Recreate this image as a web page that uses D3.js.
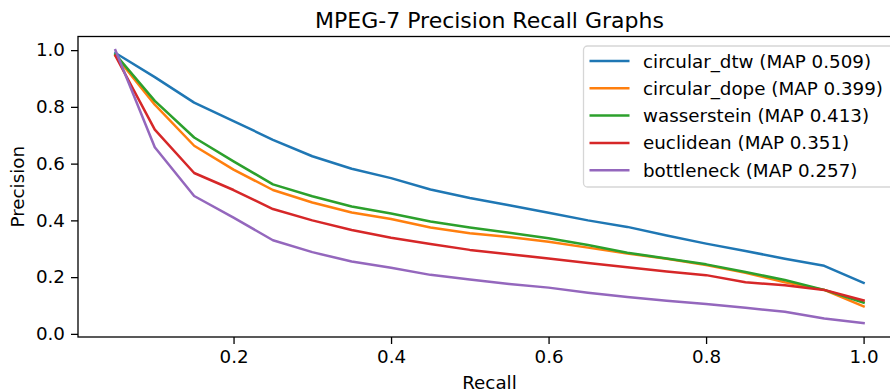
<!DOCTYPE html>
<html>
<head>
<meta charset="utf-8">
<script src="https://cdn.jsdelivr.net/npm/d3@7"></script>
<style>
    body { margin: 0; background: #fff; }
    text { font-family: "DejaVu Sans", sans-serif; }
</style>
</head>
<body>
<div id="chart"></div>
<script>
// Data
const recall = [0.05, 0.1, 0.15, 0.2, 0.25, 0.3, 0.35, 0.4, 0.45, 0.5,
                0.55, 0.6, 0.65, 0.7, 0.75, 0.8, 0.85, 0.9, 0.95, 1.0];

const circular_dtw = [0.99, 0.905, 0.815, 0.75, 0.684, 0.626, 0.582, 0.549, 0.509, 0.479,
                      0.453, 0.427, 0.40, 0.377, 0.347, 0.318, 0.292, 0.265, 0.24, 0.18];
const circular_dope = [0.98, 0.808, 0.663, 0.579, 0.507, 0.463, 0.428, 0.405, 0.375, 0.355,
                       0.341, 0.325, 0.304, 0.283, 0.265, 0.243, 0.215, 0.182, 0.155, 0.097];
const wasserstein = [0.985, 0.821, 0.692, 0.608, 0.527, 0.485, 0.449, 0.424, 0.396, 0.375,
                     0.356, 0.337, 0.313, 0.286, 0.266, 0.245, 0.218, 0.19, 0.155, 0.11];
const euclidean = [0.98, 0.72, 0.567, 0.507, 0.44, 0.40, 0.366, 0.339, 0.317, 0.296,
                   0.281, 0.266, 0.25, 0.235, 0.22, 0.207, 0.182, 0.171, 0.155, 0.118];
const bottleneck = [1.0, 0.658, 0.486, 0.41, 0.33, 0.288, 0.255, 0.233, 0.208, 0.192,
                    0.176, 0.163, 0.145, 0.13, 0.117, 0.105, 0.092, 0.078, 0.054, 0.038];

const series_names = ["circular_dtw", "circular_dope", "wasserstein", "euclidean", "bottleneck"];
const series_map = ["0.509", "0.399", "0.413", "0.351", "0.257"];
const series_values = [circular_dtw, circular_dope, wasserstein, euclidean, bottleneck];
const series_colors = ["#1f77b4", "#ff7f0e", "#2ca02c", "#d62728", "#9467bd"];

const x_ticks = [0.2, 0.4, 0.6, 0.8, 1.0];
const y_ticks = [0.0, 0.2, 0.4, 0.6, 0.8, 1.0];

function drawChart() {
    const W = 890, H = 391;
    // axes box (right edge runs just past the picture, as in the original)
    const left = 78, right = 901, top = 36.5, bottom = 337;
    const fs = "18.3px";

    const svg = d3.select("#chart")
        .append("svg")
        .attr("width", W)
        .attr("height", H);

    const x = d3.scaleLinear()
        .domain([0.0025, 1.0475])
        .range([left, right]);
    const y = d3.scaleLinear()
        .domain([-0.011, 1.048])
        .range([bottom, top]);

    // lines
    const line = d3.line()
        .x((d, i) => x(recall[i]))
        .y((d) => y(d));

    svg.selectAll("path.series")
        .data(series_values)
        .join("path")
        .attr("class", "series")
        .attr("d", (d) => line(d))
        .attr("fill", "none")
        .attr("stroke", (d, i) => series_colors[i])
        .attr("stroke-width", 2.5)
        .attr("stroke-linejoin", "round")
        .attr("stroke-linecap", "square");

    // axes
    const xAxis = svg.append("g")
        .attr("transform", `translate(0, ${bottom})`)
        .call(d3.axisBottom(x).tickValues(x_ticks).tickFormat(d3.format(".1f")).tickSize(7).tickPadding(6));
    const yAxis = svg.append("g")
        .attr("transform", `translate(${left}, 0)`)
        .call(d3.axisLeft(y).tickValues(y_ticks).tickFormat(d3.format(".1f")).tickSize(7).tickPadding(6));

    [xAxis, yAxis].forEach((g) => {
        g.select(".domain").remove();
        g.selectAll(".tick line").attr("stroke", "#000").attr("stroke-width", 1.3);
        g.selectAll(".tick text")
            .attr("fill", "#000")
            .style("font-size", fs)
            .style("font-family", "DejaVu Sans");
    });

    // spines
    svg.append("rect")
        .attr("x", left)
        .attr("y", top)
        .attr("width", right - left)
        .attr("height", bottom - top)
        .attr("fill", "none")
        .attr("stroke", "#000")
        .attr("stroke-width", 1.3);

    // title and labels
    svg.append("text")
        .attr("x", (left + right) / 2)
        .attr("y", 28)
        .attr("text-anchor", "middle")
        .style("font-size", "22px")
        .text("MPEG-7 Precision Recall Graphs");

    svg.append("text")
        .attr("x", (left + right) / 2)
        .attr("y", 389)
        .attr("text-anchor", "middle")
        .style("font-size", fs)
        .text("Recall");

    svg.append("text")
        .attr("transform", `translate(24, ${(top + bottom) / 2}) rotate(-90)`)
        .attr("text-anchor", "middle")
        .style("font-size", fs)
        .text("Precision");

    // legend
    const legend = svg.append("g");
    legend.append("rect")
        .attr("x", 583.5)
        .attr("y", 46)
        .attr("width", 312)
        .attr("height", 141)
        .attr("rx", 4)
        .attr("fill", "#fff")
        .attr("fill-opacity", 0.8)
        .attr("stroke", "#d6d6d6")
        .attr("stroke-width", 1.3);

    const rows = legend.selectAll("g.row")
        .data(series_names)
        .join("g")
        .attr("class", "row")
        .attr("transform", (d, i) => `translate(0, ${61 + i * 27.3})`);

    rows.append("line")
        .attr("x1", 589.5)
        .attr("x2", 629.5)
        .attr("stroke", (d, i) => series_colors[i])
        .attr("stroke-width", 2.5);

    rows.append("text")
        .attr("x", 643)
        .attr("dy", "0.36em")
        .style("font-size", fs)
        .text((d, i) => `${d} (MAP ${series_map[i]})`);
}
drawChart();
</script>
</body>
</html>
